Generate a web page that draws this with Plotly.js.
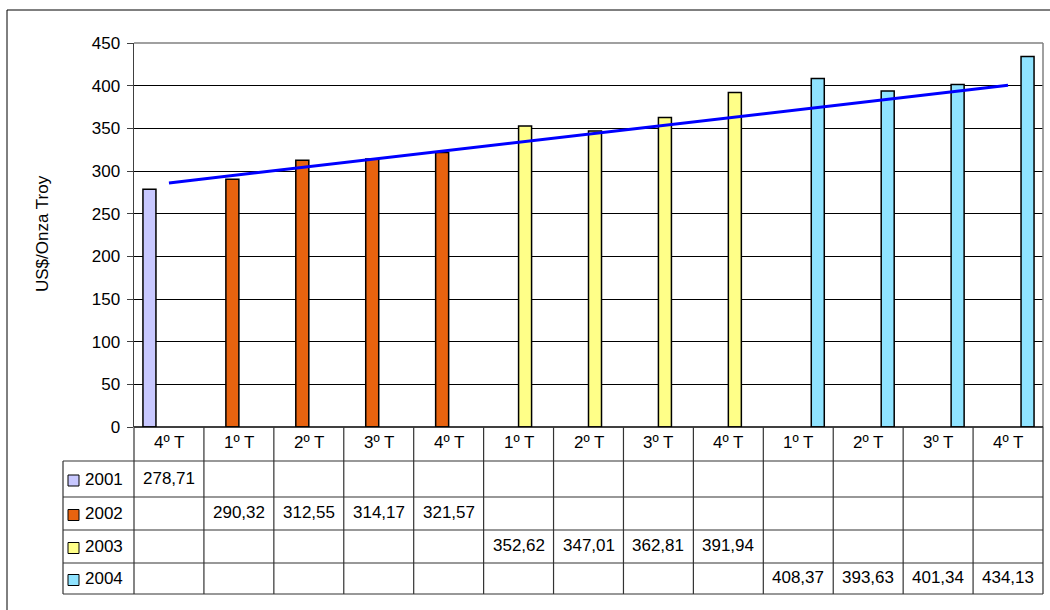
<!DOCTYPE html>
<html>
<head>
<meta charset="utf-8">
<script src="https://cdn.plot.ly/plotly-3.0.1.min.js"></script>
<style>html,body{margin:0;padding:0;background:#fff;}#chart{width:1050px;height:610px;}</style>
</head>
<body>
<div id="chart"></div>
<script>
// ---- data ----
var categories = ["4º T","1º T","2º T","3º T","4º T","1º T","2º T","3º T","4º T","1º T","2º T","3º T","4º T"];
var years = ["2001","2002","2003","2004"];
var v2001 = [278.71,null,null,null,null,null,null,null,null,null,null,null,null];
var v2002 = [null,290.32,312.55,314.17,321.57,null,null,null,null,null,null,null,null];
var v2003 = [null,null,null,null,null,352.62,347.01,362.81,391.94,null,null,null,null];
var v2004 = [null,null,null,null,null,null,null,null,null,408.37,393.63,401.34,434.13];
var trendX = [0, 12];
var trendY = [286, 400.5];
var yTicks = [0,50,100,150,200,250,300,350,400,450];
var yTitle = "US$/Onza Troy";

// ---- styling ----
var colors = ["#c8c8ff","#e8630f","#ffff88","#8fe3ff"];
var series = [v2001, v2002, v2003, v2004];
var FONT = "Liberation Sans, Arial, sans-serif";
var FS = 17;

// plot area in pixels
var L = 134, R = 1043, T = 43, B = 427;
var W = R - L, H = B - T;
function px(xp){ return (xp - L) / W; }
function py(yp){ return (B - yp) / H; }

var idx = categories.map(function(_, i){ return i; });

var traces = series.map(function(s, k){
  return {
    type: "bar", x: idx, y: s, name: years[k],
    marker: {color: colors[k], line: {color: "#000", width: 1.5}},
    hoverinfo: "skip", showlegend: false
  };
});
traces.push({
  type: "scatter", mode: "lines", x: trendX, y: trendY,
  line: {color: "#0000ff", width: 3}, hoverinfo: "skip", showlegend: false
});

var shapes = [];
var annotations = [];
function hline(x0, x1, yp, color, w){
  shapes.push({type:"line", xref:"paper", yref:"paper", x0:px(x0), x1:px(x1), y0:py(yp), y1:py(yp), line:{color:color||"#000", width:w||1}});
}
function vline(xp, y0, y1, color, w){
  shapes.push({type:"line", xref:"paper", yref:"paper", x0:px(xp), x1:px(xp), y0:py(y0), y1:py(y1), line:{color:color||"#000", width:w||1}});
}

// plot area border (gray top/right)
hline(L, R, T, "#808080", 1.5);
vline(R, T, B, "#808080", 1.5);

// outer chart border (left & top visible)
hline(7, 1060, 10, "#000", 1);
vline(7, 10, 620, "#000", 1);

// data table
var rowY = [427, 461, 497, 530, 563, 594];
var colW = W / categories.length;
var legendLeft = 63;
hline(L, R, rowY[0], "#000", 1.5);
for (var r = 1; r < rowY.length; r++) hline(legendLeft, R, rowY[r], "#333", 1.2);
for (var c = 0; c <= categories.length; c++) vline(L + c * colW, rowY[0], rowY[5], "#333", 1.2);
vline(legendLeft, rowY[1], rowY[5], "#333", 1.2);

// header labels
categories.forEach(function(cat, i){
  annotations.push({xref:"x", yref:"paper", x:i, y:py(442), text:cat, showarrow:false,
    xanchor:"center", yanchor:"middle", font:{family:FONT, size:FS, color:"#000"}});
});
// rows
series.forEach(function(s, k){
  var yc = (rowY[k+1] + rowY[k+2]) / 2;
  // legend key
  shapes.push({type:"rect", xref:"paper", yref:"paper", x0:px(68), x1:px(79), y0:py(yc-4), y1:py(yc+7),
    fillcolor:colors[k], line:{color:"#000", width:1}});
  annotations.push({xref:"paper", yref:"paper", x:px(83), y:py(yc), text:years[k], showarrow:false,
    xanchor:"left", yanchor:"middle", font:{family:FONT, size:FS, color:"#000"}});
  s.forEach(function(v, i){
    if (v === null) return;
    annotations.push({xref:"x", yref:"paper", x:i, y:py(yc - 1), text:v.toFixed(2).replace(".", ","), showarrow:false,
      xanchor:"center", yanchor:"middle", font:{family:FONT, size:FS, color:"#000"}});
  });
});

// y title (rotated)
annotations.push({xref:"paper", yref:"paper", x:px(42), y:py(234), text:yTitle, textangle:-90, showarrow:false,
  xanchor:"center", yanchor:"middle", font:{family:FONT, size:17, color:"#000"}});

var layout = {
  width: 1050, height: 610,
  margin: {l: L, r: 1050 - R, t: T, b: 610 - B, pad: 0},
  paper_bgcolor: "#fff", plot_bgcolor: "#fff",
  barmode: "group", bargap: 0.256, bargroupgap: 0,
  showlegend: false,
  xaxis: {range: [-0.5, categories.length - 0.5], showticklabels: false, showgrid: false, zeroline: false,
    showline: false, ticks: "", fixedrange: true},
  yaxis: {range: [0, 450], tickvals: yTicks, ticktext: yTicks.map(String), showgrid: true, gridcolor: "#000", gridwidth: 1,
    zeroline: false, showline: true, linecolor: "#404040", linewidth: 1.5, ticks: "outside", ticklen: 6, tickcolor: "#404040",
    tickfont: {family: FONT, size: FS, color: "#000"}, ticklabelstandoff: 3, fixedrange: true},
  shapes: shapes,
  annotations: annotations
};

Plotly.newPlot("chart", traces, layout, {displayModeBar: false, staticPlot: true});
</script>
</body>
</html>
